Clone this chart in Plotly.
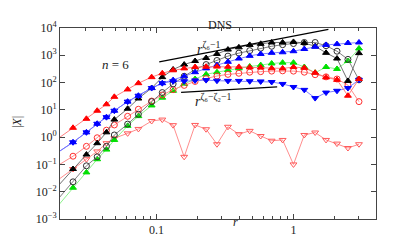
import plotly.graph_objects as go

# separations r (grid of the DNS), first point lies just left of the axis
r = [0.0184, 0.0245, 0.0307, 0.0368, 0.0430, 0.0491, 0.0614, 0.0736, 0.092, 0.110,
     0.132, 0.159, 0.191, 0.230, 0.276, 0.332, 0.399, 0.479, 0.576, 0.693,
     0.833, 1.00, 1.20, 1.44, 1.73, 2.08, 2.50, 3.01]

red_up = [0.79, 2.2, 4.7, 9.3, 16, 30, 56, 95, 158, 219,
          282, 331, 372, 380, 385, 380, 375, 360, 355, 335,
          330, 370, 347, 229, 155, 126, 33, 135]
blue_up = [0.25, 0.65, 1.5, 3.1, 5.4, 9.3, 20, 33, 63, 95,
           123, 170, 240, 331, 437, 575, 759, 955, 1120, 1230,
           1290, 1410, 1700, 2040, 2400, 2570, 2820, 2950]
blue_down = [0.25, 0.65, 1.5, 3.1, 5.4, 9.3, 20, 33, 63, 95,
             112, 112, 120, 123, 117, 115, 115, 112, 110, 105,
             89, 69, 54, 27, 43, 50, 63, 126]
black_up = [0.0135, 0.068, 0.23, 0.60, 1.5, 4.4, 11, 26, 63, 158,
            302, 457, 617, 794, 1120, 1620, 1950, 2400, 2630, 2950,
            2950, 3090, 2820, 2140, 1230, 759, 115, 1200]
black_circ = [0.0044, 0.023, 0.089, 0.19, 0.46, 1.2, 3.0, 6.9, 20, 43,
              89, 170, 302, 457, 646, 933, 1200, 1480, 1820, 2140,
              2450, 2690, 2950, 2950, 2240, 1410, 708, 126]
green_up = [0.0025, 0.014, 0.051, 0.155, 0.35, 0.79, 2.6, 5.9, 14.5, 28,
            50, 89, 135, 200, 240, 288, 331, 389, 437, 501,
            537, 537, 372, 229, 372, 316, 617, 1780]
red_circ = [0.083, 0.20, 0.46, 0.95, 1.8, 2.8, 5.8, 10.5, 21, 35,
            55, 79, 110, 141, 174, 200, 219, 240, 251, 263,
            269, 263, 240, 195, 162, 135, 81, 20]
red_down = [0.024, 0.068, 0.155, 0.30, 0.60, 0.91, 1.38, 2.0, 3.9, 4.4,
            2.75, 0.19, 2.8, 1.95, 0.55, 2.4, 1.29, 1.7, 1.1, 0.74,
            0.79, 0.10, 1.2, 1.48, 0.79, 0.58, 0.40, 0.55]

# power-law guide lines
upper_x = [0.1045, 1.80]
upper_y = [571, 8840]
lower_x = [0.151, 0.76]
lower_y = [44, 69]

yticks = [1e-3, 1e-2, 1e-1, 1e0, 1e1, 1e2, 1e3, 1e4]
yticktext = ["10<sup>−3</sup>", "10<sup>−2</sup>", "10<sup>−1</sup>", "10<sup>0</sup>",
             "10<sup>1</sup>", "10<sup>2</sup>", "10<sup>3</sup>", "10<sup>4</sup>"]
xticks = [0.1, 1]
xticktext = ["0.1", "1"]
xminor = [0.02, 0.03, 0.04, 0.05, 0.06, 0.07, 0.08, 0.09,
          0.2, 0.3, 0.4, 0.5, 0.6, 0.7, 0.8, 0.9, 2, 3, 4]

series = [
    # y, symbol, marker colour, line colour
    (red_down, "triangle-down-open", "#ff5a5a", "#ff8080"),
    (green_up, "triangle-up", "#00e000", "#80f080"),
    (red_circ, "circle-open", "#ff3030", "#ff8080"),
    (black_circ, "circle-open", "#303030", "#707070"),
    (black_up, "triangle-up", "#000000", "#606060"),
    (blue_down, "triangle-down", "#0000ff", "#7070ff"),
    (blue_up, "triangle-up", "#0000ff", "#7070ff"),
    (red_up, "triangle-up", "#ff0000", "#ff7070"),
]

fig = go.Figure()

for y, sym, mc, lc in series:
    fig.add_trace(go.Scatter(
        x=r, y=y, mode="lines+markers",
        line=dict(color=lc, width=0.9),
        marker=dict(symbol=sym, size=6, color=mc,
                    line=dict(color=mc, width=1)),
        showlegend=False))

fig.add_trace(go.Scatter(x=upper_x, y=upper_y, mode="lines",
                         line=dict(color="black", width=1.2), showlegend=False))
fig.add_trace(go.Scatter(x=lower_x, y=lower_y, mode="lines",
                         line=dict(color="black", width=1.2), showlegend=False))

font = dict(family="Liberation Serif", size=12, color="#222")
label_font = dict(family="Liberation Serif", size=14, color="#222")

fig.update_xaxes(type="log", range=[-1.706, 0.603],
                 tickvals=xticks, ticktext=xticktext,
                 ticks="inside", ticklen=5, tickcolor="#444",
                 minor=dict(tickvals=xminor, ticks="inside", ticklen=3, tickcolor="#444"),
                 showline=True, linecolor="#444", linewidth=1, mirror="allticks",
                 showgrid=False, zeroline=False, tickfont=font)
fig.update_yaxes(type="log", range=[-3, 4],
                 tickvals=yticks, ticktext=yticktext,
                 ticks="inside", ticklen=5, tickcolor="#444",
                 showline=True, linecolor="#444", linewidth=1, mirror="allticks",
                 showgrid=False, zeroline=False, tickfont=font)

fig.update_layout(
    width=398, height=249,
    margin=dict(l=60, r=22, t=28, b=25),
    paper_bgcolor="white", plot_bgcolor="white",
    font=font,
    annotations=[
        dict(text="DNS", x=0.506, y=1.063, xref="paper", yref="paper",
             showarrow=False, font=font),
        dict(text="<i>n</i> = 6", x=0.126, y=0.858, xref="paper", yref="paper",
             showarrow=False, font=dict(family="Liberation Serif", size=13, color="#222")),
        dict(text="<i>r</i><sup>ζ₆−1</sup>", x=0.47, y=0.955, xref="paper", yref="paper",
             showarrow=False, font=label_font),
        dict(text="<i>r</i><sup>ζ₆−ζ₂−1</sup>", x=0.485, y=0.625, xref="paper", yref="paper",
             showarrow=False, font=label_font),
        dict(text="<i>r</i>", x=0.554, y=-0.061, xref="paper", yref="paper",
             showarrow=False, font=font),
        dict(text="|<i>X</i>|", x=-0.166, y=0.505, xref="paper", yref="paper",
             showarrow=False, textangle=-90, font=font),
    ],
)

fig.write_html("out.html", config={"displayModeBar": False},
               post_script="document.body.style.margin='0px';")
